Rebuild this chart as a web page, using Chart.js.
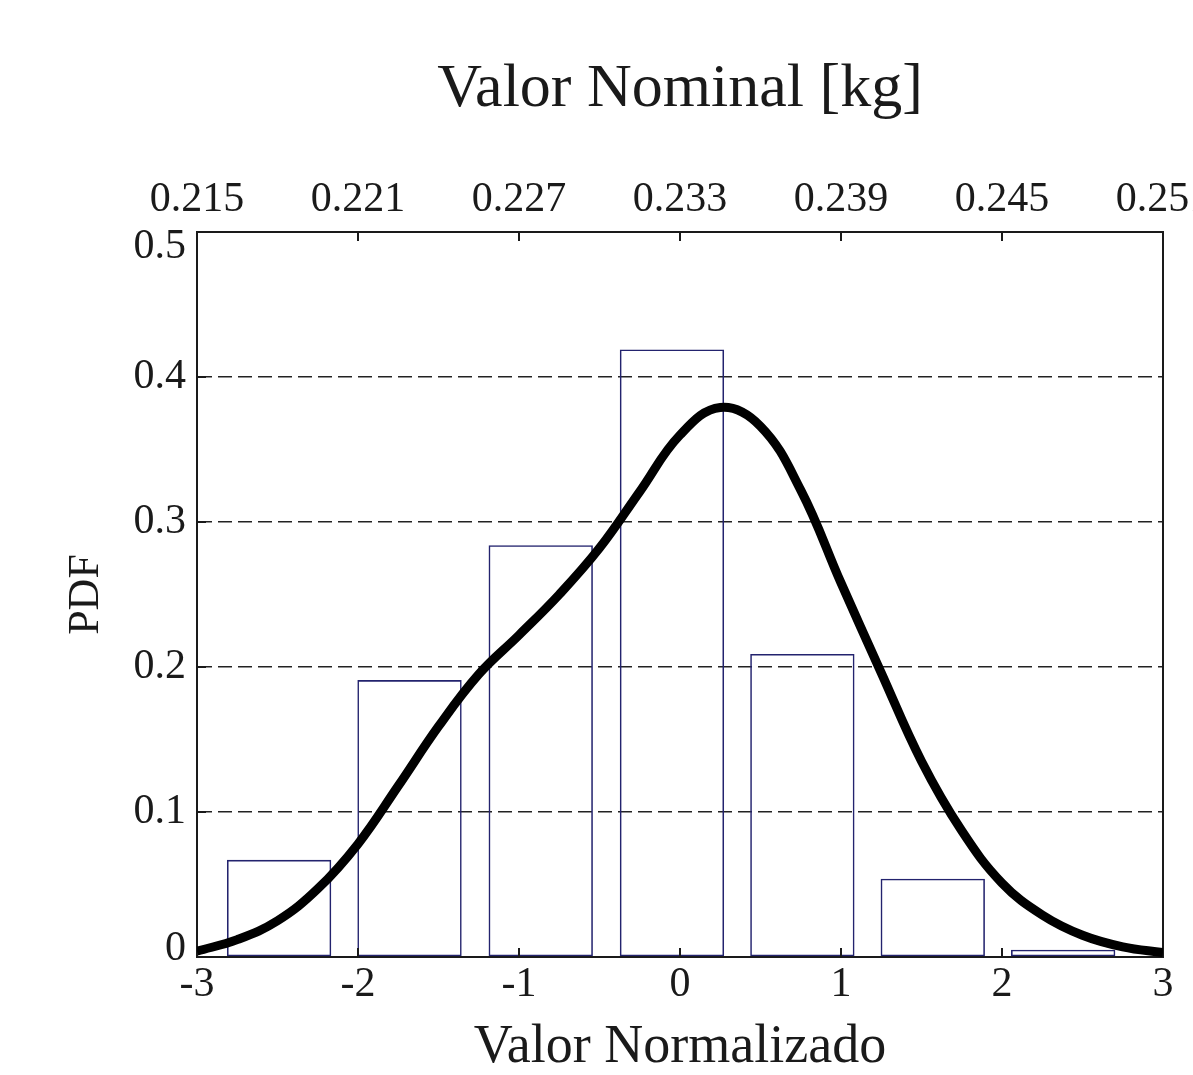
<!DOCTYPE html>
<html>
<head>
<meta charset="utf-8">
<script src="https://cdn.jsdelivr.net/npm/chart.js@4.4.1/dist/chart.umd.min.js"></script>
<style>
  html, body { margin: 0; padding: 0; background: #fff; overflow: hidden; }
  #wrap { position: absolute; left: 0; top: 0; width: 1264px; height: 1075px; }
</style>
</head>
<body>
<div id="wrap"><canvas id="graph"></canvas></div>
<script>
// histograma: centros de clase (valor normalizado) y alturas (PDF)
var binCenters = [-2.49, -1.68, -0.865, -0.05, 0.76, 1.57, 2.38];
var binHeights = [0.067, 0.191, 0.284, 0.419, 0.209, 0.054, 0.005];

// curva PDF estimada
var curveX = [-3, -2.75, -2.5, -2.25, -2, -1.75, -1.5, -1.25, -1, -0.75, -0.5, -0.25,
              0, 0.25, 0.5, 0.75, 1, 1.25, 1.5, 1.75, 2, 2.25, 2.5, 2.75, 3];
var curveY = [0.004, 0.012, 0.025, 0.047, 0.078, 0.118, 0.159, 0.195, 0.222, 0.250, 0.282, 0.321,
              0.360, 0.379, 0.366, 0.322, 0.258, 0.196, 0.135, 0.087, 0.051, 0.029, 0.015, 0.007, 0.003];

// ejes
var xTicks = [-3, -2, -1, 0, 1, 2, 3];
var nominalTicks = ["0.215", "0.221", "0.227", "0.233", "0.239", "0.245", "0.251"];
var yTicks = [0, 0.1, 0.2, 0.3, 0.4, 0.5];
var yTickLabels = ["0", "0.1", "0.2", "0.3", "0.4", "0.5"];

var FONT = "'Liberation Serif', 'DejaVu Serif', serif";
var INK = "#1a1a1a";
var NAVY = "#23236e";

var curveData = curveX.map(function(x, i) { return { x: x, y: curveY[i] }; });
var barData = binCenters.map(function(x, i) { return { x: x, y: binHeights[i] }; });

// marcas hacia adentro y etiquetas del eje y
var innerTicks = {
  id: 'innerTicks',
  afterDraw: function(chart) {
    var ctx = chart.ctx, a = chart.chartArea;
    var sx = chart.scales.x, sy = chart.scales.y;
    ctx.save();
    ctx.strokeStyle = INK;
    ctx.lineWidth = 2;
    xTicks.forEach(function(v) {
      if (v <= -3 || v >= 3) return;
      var px = sx.getPixelForValue(v);
      ctx.beginPath();
      ctx.moveTo(px, a.bottom); ctx.lineTo(px, a.bottom - 9);
      ctx.moveTo(px, a.top); ctx.lineTo(px, a.top + 9);
      ctx.stroke();
    });
    yTicks.forEach(function(v) {
      if (v <= 0 || v >= 0.5) return;
      var py = sy.getPixelForValue(v);
      ctx.beginPath();
      ctx.moveTo(a.left, py); ctx.lineTo(a.left + 9, py);
      ctx.stroke();
    });
    ctx.fillStyle = INK;
    ctx.font = "42px " + FONT;
    ctx.textAlign = 'right';
    ctx.textBaseline = 'middle';
    yTicks.forEach(function(v, i) {
      var py = sy.getPixelForValue(v);
      if (i === 0) py -= 8;
      if (i === yTicks.length - 1) py += 15;
      ctx.fillText(yTickLabels[i], a.left - 11, py);
    });
    ctx.restore();
  }
};

var ctx = document.getElementById("graph").getContext("2d");
var myChart = new Chart(ctx, {
  type: 'bar',
  data: {
    datasets: [
      {
        type: 'line',
        label: 'PDF',
        data: curveData,
        borderColor: '#000',
        borderWidth: 9,
        pointRadius: 0,
        fill: false,
        tension: 0.4,
        order: 0
      },
      {
        type: 'bar',
        label: 'Histograma',
        data: barData,
        backgroundColor: 'rgba(0,0,0,0)',
        borderColor: NAVY,
        borderWidth: 1.6,
        borderSkipped: false,
        barPercentage: 0.8,
        categoryPercentage: 1.0,
        order: 1
      }
    ]
  },
  options: {
    responsive: true,
    maintainAspectRatio: false,
    animation: false,
    layout: { padding: { left: 0, right: 100, top: 0, bottom: 0 } },
    plugins: {
      legend: { display: false },
      tooltip: { enabled: false },
      title: { display: false }
    },
    scales: {
      x: {
        type: 'linear',
        position: 'bottom',
        min: -3, max: 3,
        offset: false,
        grid: { display: false, drawTicks: false },
        border: { display: true, color: INK, width: 2 },
        ticks: {
          stepSize: 1,
          padding: 3,
          color: INK,
          font: { family: FONT, size: 42 },
          maxRotation: 0
        },
        title: {
          display: true,
          text: 'Valor Normalizado',
          color: INK,
          font: { family: FONT, size: 54, lineHeight: 1 },
          padding: { top: 0, bottom: 0 }
        },
        afterFit: function(s) { s.height = 118; }
      },
      x2: {
        type: 'linear',
        position: 'top',
        min: 0.215, max: 0.251,
        offset: false,
        grid: { display: false, drawTicks: false },
        border: { display: true, color: INK, width: 2 },
        ticks: {
          stepSize: 0.006,
          padding: 7,
          color: INK,
          font: { family: FONT, size: 42 },
          maxRotation: 0,
          autoSkip: false,
          callback: function(v, i) { return nominalTicks[i]; }
        },
        title: {
          display: true,
          text: 'Valor Nominal [kg]',
          color: INK,
          font: { family: FONT, size: 62, lineHeight: 1 },
          padding: { top: 59, bottom: 0 }
        },
        afterFit: function(s) { s.height = 232; }
      },
      y: {
        type: 'linear',
        position: 'left',
        min: 0, max: 0.5,
        grid: {
          drawTicks: false,
          color: function(c) {
            var v = c.tick ? c.tick.value : 0;
            return (v > 0.01 && v < 0.49) ? '#222' : 'rgba(0,0,0,0)';
          },
          lineWidth: 1.5
        },
        border: { display: true, color: INK, width: 2, dash: [14, 6] },
        ticks: { stepSize: 0.1, display: false },
        title: {
          display: true,
          text: 'PDF',
          color: INK,
          font: { family: FONT, size: 44, lineHeight: 1.2 },
          padding: { top: 60, bottom: 0 }
        },
        afterFit: function(s) { s.width = 197; }
      },
      y2: {
        type: 'linear',
        position: 'right',
        min: 0, max: 0.5,
        grid: { display: false, drawTicks: false },
        border: { display: true, color: INK, width: 2 },
        ticks: { display: false },
        afterFit: function(s) { s.width = 1; }
      }
    }
  },
  plugins: [innerTicks]
});
</script>
</body>
</html>
